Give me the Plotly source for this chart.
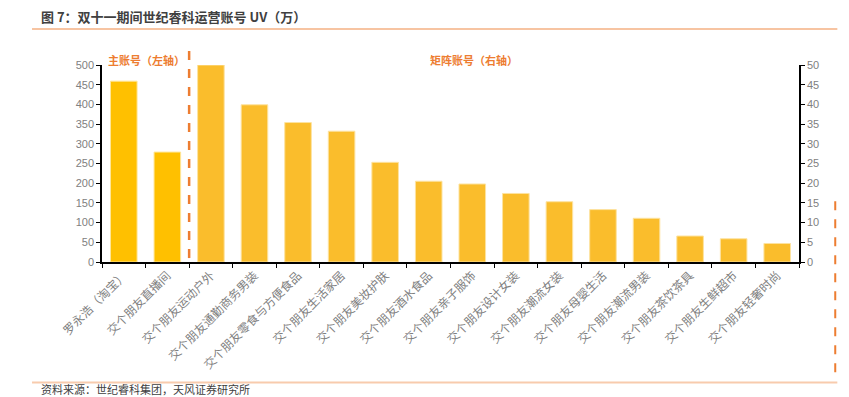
import plotly.graph_objects as go

categories = ["罗永浩（淘宝）", "交个朋友直播间", "交个朋友运动户外", "交个朋友通勤商务男装",
              "交个朋友零食与方便食品", "交个朋友生活家居", "交个朋友美妆护肤", "交个朋友酒水食品",
              "交个朋友亲子服饰", "交个朋友设计女装", "交个朋友潮流女装", "交个朋友母婴生活",
              "交个朋友潮流男装", "交个朋友茶饮茶具", "交个朋友生鲜超市", "交个朋友轻奢时尚"]
main_cats = categories[:2]
main_vals = [459, 279]
matrix_cats = categories[2:]
matrix_vals = [50.0, 39.9, 35.4, 33.2, 25.3, 20.5, 19.8, 17.4, 15.3, 13.3, 11.1, 6.6, 5.9, 4.7]
left_ticks = list(range(0, 501, 50))
right_ticks = list(range(0, 51, 5))

FONT = "Noto Sans CJK SC, Liberation Sans, sans-serif"
TICKFONT = dict(family="Liberation Sans, Noto Sans CJK SC", size=11, color="#808080")

fig = go.Figure()
fig.add_trace(go.Bar(x=main_cats, y=main_vals, marker=dict(color="#FFC000", line=dict(color="#FFE699", width=1)),
                     yaxis="y", showlegend=False))
fig.add_trace(go.Bar(x=matrix_cats, y=matrix_vals, marker=dict(color="#FABD2C", line=dict(color="#FDE3A0", width=1)),
                     yaxis="y2", showlegend=False))

fig.update_layout(
    width=841, height=389,
    margin=dict(l=94, r=50, t=57, b=135, autoexpand=False),
    paper_bgcolor="white", plot_bgcolor="white",
    barmode="overlay", bargap=0.39,
    font=dict(family=FONT),
    xaxis=dict(categoryorder="array", categoryarray=categories, tickangle=-45,
               tickson="boundaries", ticks="outside", ticklen=4, tickcolor="black",
               showline=True, linecolor="black", linewidth=1.5, showgrid=False,
               tickfont=dict(family=FONT, size=12, color="#7f7f7f")),
    yaxis=dict(range=[0, 500], tickvals=left_ticks, ticks="outside", ticklen=4, tickcolor="black",
               showline=True, linecolor="black", linewidth=1.5, showgrid=False, zeroline=False,
               tickfont=TICKFONT),
    yaxis2=dict(range=[0, 50], tickvals=right_ticks, overlaying="y", side="right",
                ticks="outside", ticklen=4, tickcolor="black",
                showline=True, linecolor="black", linewidth=1.5, showgrid=False, zeroline=False,
                tickfont=TICKFONT),
)

# separator dashed line
fig.add_shape(type="line", xref="x", yref="paper", x0=1.5, x1=1.5, y0=0.02, y1=1.10,
              line=dict(color="#ED7D31", width=2.5, dash="dash"))
# right stray dashed line
fig.add_shape(type="line", xref="paper", yref="paper", x0=1.052, x1=1.052, y0=-0.56, y1=0.314,
              line=dict(color="#ED7D31", width=2, dash="dash"))
# title underline and bottom line
fig.add_shape(type="line", xref="paper", yref="paper", x0=-0.1004, x1=1.055, y0=1.183, y1=1.183,
              line=dict(color="#F4B183", width=1.5))
fig.add_shape(type="line", xref="paper", yref="paper", x0=-0.1004, x1=1.055, y0=-0.612, y1=-0.612,
              line=dict(color="#F8CBAD", width=2))

fig.add_annotation(text="<b>图 7：双十一期间世纪睿科运营账号 UV（万）</b>", xref="paper", yref="paper",
                   x=-0.089, y=1.244, xanchor="left", yanchor="middle", showarrow=False, borderpad=0,
                   font=dict(family=FONT, size=13, color="#404040"))
fig.add_annotation(text="<b>主账号（左轴）</b>", xref="paper", yref="paper",
                   x=0.006, y=1.025, xanchor="left", yanchor="middle", showarrow=False,
                   font=dict(family=FONT, size=11, color="#ED7D31"))
fig.add_annotation(text="<b>矩阵账号（右轴）</b>", xref="paper", yref="paper",
                   x=0.468, y=1.025, xanchor="left", yanchor="middle", showarrow=False,
                   font=dict(family=FONT, size=11, color="#ED7D31"))
fig.add_annotation(text="资料来源：世纪睿科集团，天风证券研究所", xref="paper", yref="paper",
                   x=-0.089, y=-0.645, xanchor="left", yanchor="middle", showarrow=False, borderpad=0,
                   font=dict(family=FONT, size=11, color="#404040"))

fig.write_html("out.html")
